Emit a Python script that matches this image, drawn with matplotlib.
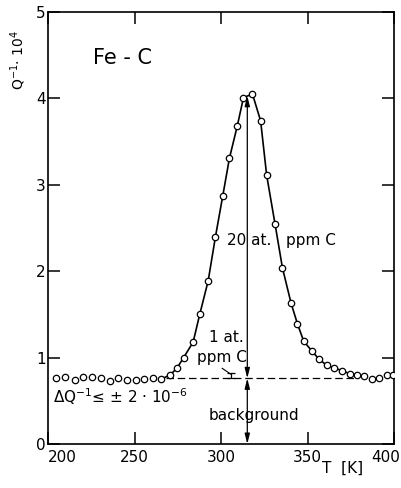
import matplotlib
matplotlib.use("Agg")
import matplotlib.pyplot as plt
import matplotlib.transforms as mtransforms

# ---- data ----
T_bg = [204.6, 209.9, 215.7, 220.1, 225.3, 230.5, 236.0, 240.4, 245.6, 251.0, 255.7, 260.7]
Q_bg = [0.76, 0.77, 0.74, 0.77, 0.77, 0.76, 0.73, 0.76, 0.74, 0.74, 0.75, 0.76]

T_peak = [265.3, 270.7, 274.6, 278.4, 283.9, 287.7, 292.6, 296.8, 301.0, 304.9, 309.4,
          313.0, 318.2, 322.9, 326.4, 331.2, 335.5, 340.5, 344.2, 347.8, 352.4, 356.7,
          361.2, 365.4, 369.9, 374.7, 378.8]
Q_peak = [0.75, 0.80, 0.88, 1.00, 1.18, 1.50, 1.89, 2.40, 2.87, 3.31, 3.68,
          4.01, 4.05, 3.74, 3.11, 2.55, 2.04, 1.63, 1.39, 1.19, 1.08, 0.98,
          0.91, 0.88, 0.85, 0.81, 0.80]

T_tail = [382.8, 387.0, 391.5, 395.9, 399.5]
Q_tail = [0.79, 0.75, 0.76, 0.80, 0.80]

background_level = 0.76
background_range = [268, 378]
T_max = 315.2
Q_max = 4.03
bar_T = 305.9
bar_half = 0.03

xticks = [200, 250, 300, 350, 400]
yticks = [0, 1, 2, 3, 4, 5]

# ---- figure ----
fig = plt.figure(figsize=(4.01, 4.88), dpi=100)
ax = fig.add_axes([48 / 401, 44 / 488, 346 / 401, 432 / 488])
ax.set_xlim(200, 400)
ax.set_ylim(0, 5)

for s in ax.spines.values():
    s.set_linewidth(1.2)

fs = 11
ax.set_xticks(xticks)
ax.set_xticklabels([str(t) for t in xticks], fontsize=fs)
ax.set_yticks(yticks)
ax.set_yticklabels([str(t) for t in yticks], fontsize=fs)
ax.tick_params(direction="in", length=8.5, width=1.1, top=True, right=True,
               labeltop=False, labelright=False)
ax.tick_params(axis="x", pad=4)
ax.tick_params(axis="y", pad=1.5)
lbls = ax.get_xticklabels()
lbls[0].set_horizontalalignment("left")
lbls[-1].set_horizontalalignment("right")
lbls[-1].set_transform(lbls[-1].get_transform() +
                       mtransforms.ScaledTranslation(6 / 100, 0, fig.dpi_scale_trans))

mk = dict(marker="o", markersize=4.6, markerfacecolor="white",
          markeredgecolor="black", markeredgewidth=0.9)

# background dashed line
ax.plot(background_range, [background_level] * 2, color="black", lw=0.9,
        dashes=(6, 3), zorder=2)

# data
ax.plot(T_bg, Q_bg, linestyle="none", zorder=3, **mk)
ax.plot(T_peak, Q_peak, color="black", lw=1.2, zorder=3, **mk)
ax.plot(T_tail, Q_tail, linestyle="none", zorder=3, **mk)

# arrows
ap = dict(arrowstyle="<|-|>,head_length=0.6,head_width=0.15", color="black",
          lw=0.9, shrinkA=0, shrinkB=0)
ax.annotate("", xy=(T_max, Q_max), xytext=(T_max, background_level), arrowprops=ap, zorder=4)
ax.annotate("", xy=(T_max, background_level), xytext=(T_max, 0), arrowprops=ap, zorder=4)

# 1 ppm error bar
ax.errorbar([bar_T], [background_level + bar_half], yerr=[bar_half], color="black",
            lw=0.9, capsize=3, capthick=0.9, zorder=4)
ax.plot([300.7, 305.5], [0.876, 0.81], color="black", lw=0.8, zorder=4)

# texts
ax.text(226.1, 4.47, "Fe - C", fontsize=15, ha="left", va="center")
ax.text(303.2, 2.36, "20 at.   ppm C", fontsize=fs, ha="left", va="center")
ax.text(292.9, 1.23, "1 at.", fontsize=fs, ha="left", va="center")
ax.text(286.2, 1.00, "ppm C", fontsize=fs, ha="left", va="center")
ax.text(202.9, 0.55, r"$\Delta$Q$^{-1}$≤ ± 2 · 10$^{-6}$", fontsize=fs,
        ha="left", va="center")
ax.text(319.1, 0.33, "background", fontsize=fs, ha="center", va="center")
ax.text(370.5, -0.285, "T  [K]", fontsize=fs, ha="center", va="center", clip_on=False)
fig.text(18 / 401, 1 - 60 / 488, r"Q$^{-1}$· 10$^{4}$", fontsize=fs - 1,
         rotation=90, ha="center", va="center")

fig.savefig("out.png", dpi=100)
